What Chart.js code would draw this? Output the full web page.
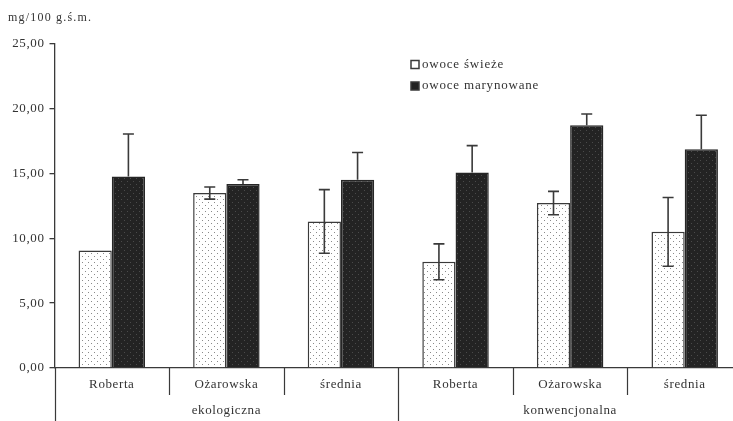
<!DOCTYPE html>
<html>
<head>
<meta charset="utf-8">
<script src="https://cdn.jsdelivr.net/npm/chart.js@4.4.1/dist/chart.umd.min.js"></script>
<style>
  html, body { margin: 0; padding: 0; background: #ffffff; overflow: hidden; }
  #wrap { position: relative; width: 750px; height: 421px; }
</style>
</head>
<body>
<div id="wrap"><canvas id="chart"></canvas></div>
<script>
// Cultivars within each cultivation system
const categories = ['Roberta', 'Ożarowska', 'średnia', 'Roberta', 'Ożarowska', 'średnia'];
// Cultivation systems (each spans three cultivars)
const groups = ['ekologiczna', 'konwencjonalna'];
const groupSpan = 3;

const seriesNames = ['owoce świeże', 'owoce marynowane'];
// mg/100 g fresh matter
const freshValues   = [9.05, 13.48, 11.29, 8.18, 12.71, 10.49];
const freshErrors   = [0, 0.47, 2.45, 1.38, 0.90, 2.65];
const pickledValues = [14.76, 14.17, 14.50, 15.07, 18.70, 16.85];
const pickledErrors = [3.27, 0.33, 2.10, 2.06, 0.87, 2.62];

const yTicks = [0, 5, 10, 15, 20, 25];
const yTitle = 'mg/100 g.ś.m.';

const SERIF = '"Liberation Serif", "DejaVu Serif", serif';
const INK = '#333333';
const LINE = '#3a3a3a';

const canvas = document.getElementById('chart');
const ctx = canvas.getContext('2d');

function dotPattern(bg, dot) {
  const c = document.createElement('canvas');
  c.width = 6; c.height = 6;
  const g = c.getContext('2d');
  g.fillStyle = bg; g.fillRect(0, 0, 6, 6);
  g.fillStyle = dot;
  g.fillRect(1, 1, 1, 1);
  g.fillRect(4, 4, 1, 1);
  return ctx.createPattern(c, 'repeat');
}
const lightFill = dotPattern('#ffffff', '#8a8a8a');
const darkFill = dotPattern('#232323', '#4a4a4a');

const fmt = v => v.toFixed(2).replace('.', ',');

// Error bars: fresh fruit both ways, pickled fruit upward (lower half sits inside the dark bar)
const errorBars = {
  id: 'errorBars',
  afterDatasetsDraw(chart) {
    const y = chart.scales.y;
    const c = chart.ctx;
    c.save();
    c.strokeStyle = LINE;
    c.lineWidth = 1.6;
    chart.data.datasets.forEach((ds, di) => {
      const meta = chart.getDatasetMeta(di);
      meta.data.forEach((bar, i) => {
        const e = ds.errors[i];
        if (!e) return;
        const v = ds.data[i];
        const top = y.getPixelForValue(v + e);
        const bot = ds.errorBoth ? y.getPixelForValue(v - e) : bar.y;
        const half = 5.5;
        c.beginPath();
        c.moveTo(bar.x, top); c.lineTo(bar.x, bot);
        c.moveTo(bar.x - half, top); c.lineTo(bar.x + half, top);
        if (ds.errorBoth) { c.moveTo(bar.x - half, bot); c.lineTo(bar.x + half, bot); }
        c.stroke();
      });
    });
    c.restore();
  }
};

// Dividers between cultivars (short) and between systems (long), title and legend
const decorations = {
  id: 'decorations',
  beforeLayout(chart) { chart.ctx.letterSpacing = '0.6px'; },
  beforeDraw(chart) { chart.ctx.letterSpacing = '0.6px'; },
  afterDraw(chart) {
    const c = chart.ctx;
    const x = chart.scales.x;
    const area = chart.chartArea;
    c.save();
    c.strokeStyle = LINE;
    c.lineWidth = 1.2;
    for (let i = 0; i <= categories.length; i++) {
      const px = Math.round(x.getPixelForValue(i - 0.5)) + 0.5;
      const long = i % groupSpan === 0;
      c.beginPath();
      c.moveTo(px, area.bottom);
      c.lineTo(px, long ? chart.height : area.bottom + 27);
      c.stroke();
    }
    // axis title
    c.fillStyle = INK;
    c.font = '12px ' + SERIF;
    c.letterSpacing = '1.2px';
    c.textBaseline = 'middle';
    c.textAlign = 'left';
    c.fillText(yTitle, 8, 18);
    // legend
    const lx = 411, ly = [64.5, 86];
    c.font = '13px ' + SERIF;
    c.letterSpacing = '0.8px';
    chart.data.datasets.forEach((ds, di) => {
      c.fillStyle = di === 0 ? '#ffffff' : '#232323';
      c.fillRect(lx, ly[di] - 4, 8, 8);
      c.lineWidth = 1.5;
      c.strokeStyle = LINE;
      c.strokeRect(lx, ly[di] - 4, 8, 8);
      c.fillStyle = INK;
      c.fillText(ds.label, lx + 11, ly[di]);
    });
    c.restore();
  }
};

new Chart(canvas, {
  type: 'bar',
  data: {
    labels: categories,
    datasets: [
      {
        label: seriesNames[0],
        data: freshValues,
        errors: freshErrors,
        errorBoth: true,
        backgroundColor: lightFill,
        borderColor: LINE,
        borderWidth: 1.5,
        xAxisID: 'x',
        categoryPercentage: 0.58,
        barPercentage: 1.0
      },
      {
        label: seriesNames[1],
        data: pickledValues,
        errors: pickledErrors,
        errorBoth: false,
        backgroundColor: darkFill,
        borderColor: '#262626',
        borderWidth: 1.5,
        xAxisID: 'x',
        categoryPercentage: 0.58,
        barPercentage: 1.0
      }
    ]
  },
  options: {
    responsive: true,
    maintainAspectRatio: false,
    animation: false,
    layout: { padding: { top: 43.5, right: 8, bottom: 0, left: 0 } },
    plugins: {
      legend: { display: false },
      tooltip: { enabled: false }
    },
    scales: {
      x: {
        type: 'category',
        position: 'bottom',
        offset: true,
        grid: { display: false },
        border: { display: true, color: LINE, width: 1.3 },
        ticks: {
          color: INK,
          font: { family: SERIF, size: 13 },
          padding: 1,
          maxRotation: 0,
          autoSkip: false
        },
        afterFit(s) { s.height = 27; }
      },
      x2: {
        type: 'category',
        position: 'bottom',
        labels: groups,
        offset: true,
        grid: { display: false },
        border: { display: false },
        ticks: {
          color: INK,
          font: { family: SERIF, size: 13 },
          padding: 0,
          maxRotation: 0,
          autoSkip: false
        },
        afterFit(s) { s.height = 26; }
      },
      y: {
        min: 0,
        max: 25,
        afterBuildTicks(s) { s.ticks = yTicks.map(v => ({ value: v })); },
        grid: { drawOnChartArea: false, drawTicks: true, tickLength: 5, color: LINE, lineWidth: 1.3 },
        border: { display: true, color: LINE, width: 1.3 },
        ticks: {
          color: INK,
          font: { family: SERIF, size: 13 },
          padding: 5,
          callback: v => fmt(v)
        },
        afterFit(s) { s.width = 54.5; }
      }
    }
  },
  plugins: [errorBars, decorations]
});
</script>
</body>
</html>
